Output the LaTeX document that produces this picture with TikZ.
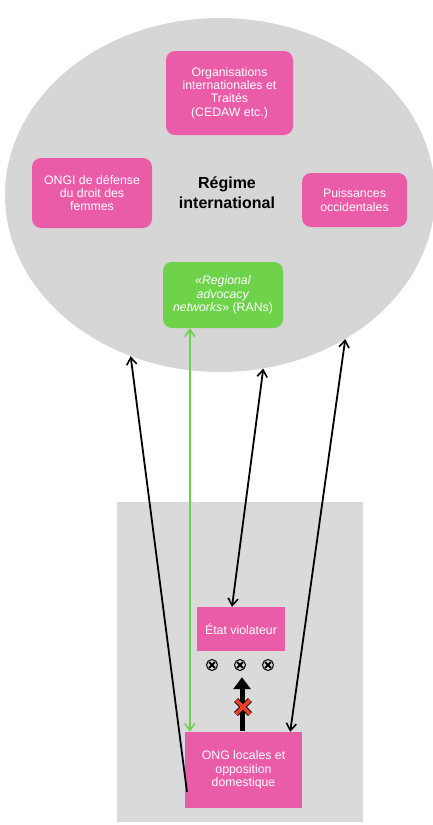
\documentclass[tikz,border=0pt]{standalone}
\usepackage{fontspec}
\setmainfont{Liberation Sans}
\usetikzlibrary{shapes.geometric,arrows.meta,calc}
\definecolor{pinkbox}{HTML}{EA5CA8}
\definecolor{greenbox}{HTML}{6ED24A}
\definecolor{ellgray}{HTML}{D6D6D6}
\definecolor{rectgray}{HTML}{DADADA}
\definecolor{redx}{HTML}{E8402A}
\begin{document}
\begin{tikzpicture}[x=1pt,y=-1pt,
  boxtext/.style={font=\fontsize{12.3}{13.4}\selectfont, text=white, align=center, inner sep=0pt},
  rbox/.style={boxtext, fill=pinkbox, rounded corners=9pt},
  sbox/.style={boxtext, fill=pinkbox},
  tip/.tip={Straight Barb[length=7pt,width=10pt,line width=1.6pt]},
  link/.style={line width=1.8pt, tip-tip},
  otimesmark/.style={circle, draw=black, line width=1pt, minimum size=11pt, inner sep=0pt,
    path picture={\draw[line width=2pt] ([shift={(-3pt,-3pt)}]path picture bounding box.center) -- ([shift={(3pt,3pt)}]path picture bounding box.center);
                  \draw[line width=2pt] ([shift={(-3pt,3pt)}]path picture bounding box.center) -- ([shift={(3pt,-3pt)}]path picture bounding box.center);}}
]
\useasboundingbox (0,0) rectangle (433,825);
% international regime
\node[ellipse, fill=ellgray, minimum width=430pt, minimum height=354pt, inner sep=0pt] (ell) at (220,195) {};
\node[font=\fontsize{16}{20}\selectfont\bfseries, align=center] (regime) at (227,193) {Régime\\international};
\node[rbox, minimum width=127pt, minimum height=84pt] (org) at (229.5,93) {Organisations\\internationales et\\Traités\\(CEDAW etc.)};
\node[rbox, minimum width=120pt, minimum height=70pt] (ongi) at (92,193) {ONGI de défense\\du droit des\\femmes};
\node[rbox, minimum width=105pt, minimum height=54pt] (puiss) at (354.5,200) {Puissances\\occidentales};
\node[boxtext, fill=greenbox, rounded corners=9pt, minimum width=120pt, minimum height=66pt] (rans) at (223,295) {«\textit{Regional}\\\textit{advocacy}\\\textit{networks}» (RANs)};
% domestic level
\node[fill=rectgray, minimum width=246pt, minimum height=320pt, inner sep=0pt] (dom) at (240,662) {};
\node[sbox, minimum width=88pt, minimum height=44pt] (etat) at (241,629) {État violateur};
\node[sbox, minimum width=117pt, minimum height=76pt] (ong) at (243.5,770) {ONG locales et\\opposition\\domestique};
\node[otimesmark] (o1) at (212,665) {};
\node[otimesmark] (o2) at (240,665) {};
\node[otimesmark] (o3) at (268,665) {};
% blocked thick arrow
\coordinate (tstart) at (242,731);
\draw[line width=5pt, -{Triangle[length=12pt,width=17pt]}] (tstart) -- ([yshift=-26pt]etat.south -| tstart);
\coordinate (xc) at (243,707);
\draw[line width=5.5pt, black] ($(xc)+(-7,-7)$) -- ($(xc)+(7,7)$) ($(xc)+(7,-7)$) -- ($(xc)+(-7,7)$);
\draw[line width=3.6pt, redx] ($(xc)+(-7,-7)$) -- ($(xc)+(7,7)$) ($(xc)+(7,-7)$) -- ($(xc)+(-7,7)$);
% connectors
\coordinate (lstart) at (187,792);
\draw[line width=1.8pt, -tip] (lstart) -- (ell.-119);
\draw[link, draw=greenbox] ([xshift=27pt]rans.south west) -- ([xshift=5pt]ong.north west);
\draw[link] (ell.-76) -- ([xshift=-9pt]etat.north);
\draw[link] (ell.-49) -- ([xshift=-12pt]ong.north east);
\end{tikzpicture}
\end{document}
